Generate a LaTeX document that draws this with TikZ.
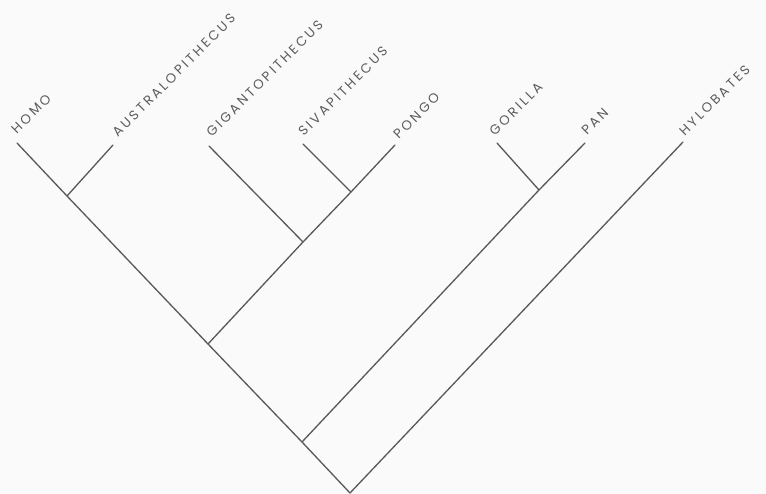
\documentclass[tikz,border=0pt]{standalone}
\usepackage{fontspec}
\newfontfamily\labfont[LetterSpace=20]{Poppins}
\definecolor{linegray}{HTML}{585858}
\definecolor{textgray}{HTML}{5C5C5C}
\definecolor{bgcol}{HTML}{FAFAFA}
\begin{document}
\begin{tikzpicture}[x=1pt,y=-1pt,
  branch/.style={draw=linegray,line width=1.3pt,line cap=round},
  taxon/.style={rotate=45,anchor=south west,inner sep=0pt,
    font=\labfont\fontsize{13.3}{13.3}\selectfont,text=textgray}]
\fill[bgcol] (0,0) rectangle (766,494);
\useasboundingbox (0,0) rectangle (766,494);
% tips
\coordinate (homo) at (17,143);
\coordinate (austr) at (113,145);
\coordinate (gigan) at (209,146);
\coordinate (siva) at (303,144);
\coordinate (pongo) at (395,145);
\coordinate (gorilla) at (497,143);
\coordinate (pan) at (585,143);
\coordinate (hylo) at (683,142);
% branch points
\coordinate (root) at (350,493);
\coordinate (n4) at (302,442);
\coordinate (n3) at (208,344);
\coordinate (n1) at (67,196);
\coordinate (n5) at (303,242);
\coordinate (n6) at (351,192);
\coordinate (n7) at (539,190);
% branches
\draw[branch] (root) -- (n4);
\draw[branch] (n4) -- (n3);
\draw[branch] (n3) -- (n1);
\draw[branch] (n1) -- (homo);
\draw[branch] (n1) -- (austr);
\draw[branch] (n3) -- (n5);
\draw[branch] (n5) -- (n6);
\draw[branch] (n6) -- (pongo);
\draw[branch] (n5) -- (gigan);
\draw[branch] (n6) -- (siva);
\draw[branch] (n4) -- (n7);
\draw[branch] (n7) -- (pan);
\draw[branch] (n7) -- (gorilla);
\draw[branch] (root) -- (hylo);
% labels
\node[taxon] (lhomo) at ([shift={(0,-8)}]homo) {HOMO};
\node[taxon] (laustr) at ([shift={(5,-7)}]austr) {AUSTRALOPITHECUS};
\node[taxon] (lgigan) at ([shift={(3,-8)}]gigan) {GIGANTOPITHECUS};
\node[taxon] (lsiva) at ([shift={(1,-7)}]siva) {SIVAPITHECUS};
\node[taxon] (lpongo) at ([shift={(4,-5)}]pongo) {PONGO};
\node[taxon] (lgorilla) at ([shift={(-2,-6)}]gorilla) {GORILLA};
\node[taxon] (lpan) at ([shift={(2,-7)}]pan) {PAN};
\node[taxon] (lhylo) at ([shift={(2,-5)}]hylo) {HYLOBATES};
\end{tikzpicture}
\end{document}
